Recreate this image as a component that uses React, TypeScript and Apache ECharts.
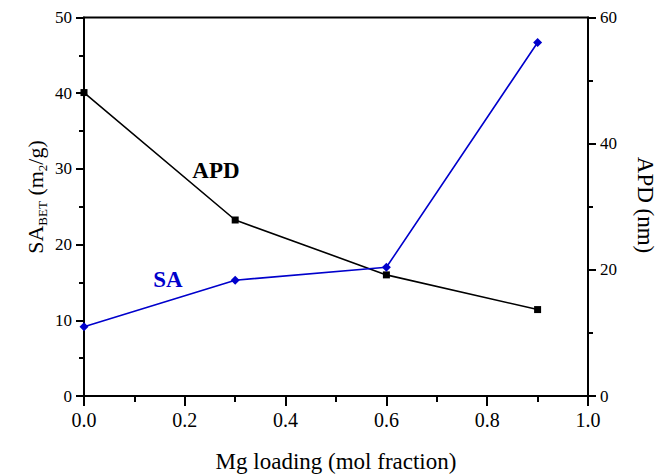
import React, { useEffect, useRef } from "react";
import * as echarts from "echarts";

const mgLoading = [0.0, 0.3, 0.6, 0.9];
const saValues = [9.15, 15.3, 17.0, 46.7];
const apdValues = [48.1, 27.9, 19.2, 13.7];

const FONT = "Liberation Serif";

export default function App() {
  const ref = useRef<HTMLDivElement>(null);
  useEffect(() => {
    if (!ref.current) return;
    const chart = echarts.init(ref.current, undefined, { renderer: "svg" });
    const axisLine = { show: true, lineStyle: { color: "#000", width: 2 } };
    chart.setOption({
      animation: false,
      textStyle: { fontFamily: FONT },
      grid: { left: 84, right: 68, top: 17.5, bottom: 79, show: true, borderColor: "#000", borderWidth: 2 },
      xAxis: {
        type: "value",
        min: 0,
        max: 1,
        interval: 0.2,
        axisLine,
        axisTick: { inside: false, length: 10, lineStyle: { width: 2, color: "#000" } },
        minorTick: { show: true, splitNumber: 2, length: 6, lineStyle: { width: 2, color: "#000" } },
        splitLine: { show: false },
        axisLabel: { color: "#000", fontSize: 20, fontFamily: FONT, margin: 14, formatter: (v: number) => v.toFixed(1) },
      },
      yAxis: [
        {
          type: "value",
          min: 0,
          max: 50,
          interval: 10,
          position: "left",
          axisLine,
          axisTick: { inside: false, length: 8, lineStyle: { width: 2, color: "#000" } },
          minorTick: { show: true, splitNumber: 2, length: 5, lineStyle: { width: 2, color: "#000" } },
          splitLine: { show: false },
          axisLabel: { color: "#000", fontSize: 17, fontFamily: FONT, margin: 12 },
        },
        {
          type: "value",
          min: 0,
          max: 60,
          interval: 20,
          position: "right",
          axisLine,
          axisTick: { inside: false, length: 8, lineStyle: { width: 2, color: "#000" } },
          minorTick: { show: true, splitNumber: 2, length: 5, lineStyle: { width: 2, color: "#000" } },
          splitLine: { show: false },
          axisLabel: { color: "#000", fontSize: 17, fontFamily: FONT, margin: 12 },
        },
      ],
      series: [
        {
          name: "APD",
          type: "line",
          yAxisIndex: 1,
          data: mgLoading.map((x, i) => [x, apdValues[i]]),
          symbol: "rect",
          symbolSize: 7,
          itemStyle: { color: "#000" },
          lineStyle: { color: "#000", width: 1.6 },
        },
        {
          name: "SA",
          type: "line",
          yAxisIndex: 0,
          data: mgLoading.map((x, i) => [x, saValues[i]]),
          symbol: "diamond",
          symbolSize: 9,
          itemStyle: { color: "#0000CC" },
          lineStyle: { color: "#0000CC", width: 1.6 },
        },
      ],
      graphic: [
        {
          type: "text",
          x: 216,
          y: 170,
          style: { text: "APD", fontFamily: FONT, fontSize: 23, fontWeight: "bold", fill: "#000", align: "center", verticalAlign: "middle" },
        },
        {
          type: "text",
          x: 168,
          y: 279,
          style: { text: "SA", fontFamily: FONT, fontSize: 23, fontWeight: "bold", fill: "#0000CC", align: "center", verticalAlign: "middle" },
        },
        {
          type: "text",
          x: 336,
          y: 461,
          style: { text: "Mg loading (mol fraction)", fontFamily: FONT, fontSize: 23, fill: "#000", align: "center", verticalAlign: "middle" },
        },
        {
          type: "text",
          x: 645,
          y: 205,
          rotation: -Math.PI / 2,
          style: { text: "APD (nm)", fontFamily: FONT, fontSize: 23, fill: "#000", align: "center", verticalAlign: "middle" },
        },
        {
          type: "text",
          x: 35,
          y: 197,
          rotation: Math.PI / 2,
          style: {
            text: "{a|SA}{s|BET}{a| (m}{s|2}{a|/g)}",
            align: "center",
            verticalAlign: "middle",
            rich: {
              a: { fontFamily: FONT, fontSize: 22, fill: "#000", lineHeight: 28, verticalAlign: "middle" },
              s: { fontFamily: FONT, fontSize: 13, fill: "#000", lineHeight: 28, verticalAlign: "bottom" },
            },
          },
        },
        {
          type: "text",
          x: -7,
          y: -4,
          style: { text: "(a)", fontFamily: FONT, fontSize: 20, fill: "#000", align: "left", verticalAlign: "bottom" },
        },
      ],
    });
    return () => chart.dispose();
  }, []);
  return <div ref={ref} style={{ position: "absolute", left: 0, top: 0, width: 656, height: 475 }} />;
}
